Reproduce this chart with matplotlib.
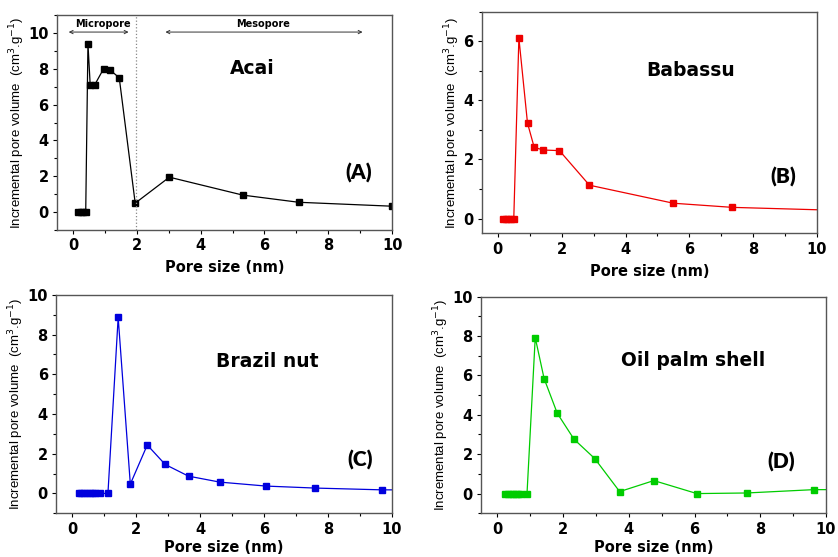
import numpy as np
import matplotlib
matplotlib.use('Agg')
import matplotlib.pyplot as plt
from matplotlib.ticker import MultipleLocator

# ---- data ----
acai_x = [0.17, 0.25, 0.32, 0.40, 0.47, 0.54, 0.68, 0.96, 1.15, 1.45, 1.95, 3.02, 5.32, 7.07, 10.0]
acai_y = [0.0, 0.0, 0.0, 0.0, 9.4, 7.1, 7.1, 8.0, 7.95, 7.5, 0.5, 1.95, 0.95, 0.55, 0.33]

babassu_x = [0.17, 0.25, 0.33, 0.41, 0.50, 0.66, 0.93, 1.14, 1.43, 1.93, 2.87, 5.50, 7.35, 10.3]
babassu_y = [0.0, 0.0, 0.0, 0.0, 0.0, 6.11, 3.23, 2.41, 2.32, 2.30, 1.13, 0.52, 0.38, 0.29]

brazil_x = [0.20, 0.29, 0.38, 0.47, 0.56, 0.65, 0.73, 0.88, 1.12, 1.44, 1.82, 2.35, 2.91, 3.64, 4.62, 6.07, 7.60, 9.70, 10.3]
brazil_y = [0.0, 0.0, 0.0, 0.0, 0.0, 0.0, 0.0, 0.0, 0.0, 8.87, 0.47, 2.44, 1.46, 0.87, 0.57, 0.37, 0.27, 0.18, 0.18]

oilpalm_x = [0.24, 0.32, 0.40, 0.48, 0.56, 0.64, 0.72, 0.90, 1.15, 1.42, 1.82, 2.33, 2.96, 3.72, 4.76, 6.07, 7.58, 9.63, 10.3]
oilpalm_y = [0.0, 0.0, 0.0, 0.0, 0.0, 0.0, 0.0, 0.0, 7.92, 5.84, 4.08, 2.76, 1.78, 0.10, 0.66, 0.0, 0.03, 0.20, 0.20]

ylabel = 'Incremental pore volume  (cm$^{3}$.g$^{-1}$)'
xlabel = 'Pore size (nm)'

plt.rcParams['font.family'] = ['DejaVu Sans']

fig = plt.figure(figsize=(8.38, 5.57), dpi=100)

panels = [
    # rect, x, y, colour, ylim, name, name pos, letter, letter pos, xlabel pad
    ([0.068, 0.587, 0.400, 0.386], acai_x, acai_y, 'black', (-1, 11), 'Acai', (5.63, 8.0), '(A)', (8.95, 2.2), 5),
    ([0.575, 0.581, 0.400, 0.398], babassu_x, babassu_y, '#ee0000', (-0.5, 7), 'Babassu', (6.03, 5.0), '(B)', (8.93, 1.42), 5),
    ([0.067, 0.0785, 0.4006, 0.392], brazil_x, brazil_y, '#0000dd', (-1, 10), 'Brazil nut', (6.09, 6.64), '(C)', (9.02, 1.68), 2.5),
    ([0.574, 0.0785, 0.4117, 0.389], oilpalm_x, oilpalm_y, '#00cc00', (-1, 10), 'Oil palm shell', (5.95, 6.78), '(D)', (8.64, 1.62), 2.5),
]

axes = []
for rect, xs, ys, col, ylim, name, npos, letter, lpos, xpad in panels:
    ax = fig.add_axes(rect)
    ax.plot(xs, ys, '-s', color=col, linewidth=0.9, markersize=4.2)
    ax.set_xlim(-0.5, 10)
    ax.set_ylim(*ylim)
    ax.xaxis.set_major_locator(MultipleLocator(2))
    ax.xaxis.set_minor_locator(MultipleLocator(1))
    ax.yaxis.set_major_locator(MultipleLocator(2))
    ax.yaxis.set_minor_locator(MultipleLocator(1))
    ax.tick_params(which='both', direction='out', top=False, right=False)
    ax.tick_params(which='major', length=3, width=0.8, labelsize=10.5, pad=3)
    ax.tick_params(which='minor', length=2, width=0.8)
    for lab in ax.get_xticklabels() + ax.get_yticklabels():
        lab.set_fontweight('bold')
    for sp in ax.spines.values():
        sp.set_color('#555555')
        sp.set_linewidth(1.0)
    ax.set_xlabel(xlabel, fontsize=10.5, fontweight='bold', labelpad=xpad)
    ax.set_ylabel(ylabel, fontsize=9.5, labelpad=1, family=['Liberation Sans', 'DejaVu Sans'])
    ax.text(npos[0], npos[1], name, fontsize=13.5, fontweight='bold', ha='center', va='center')
    ax.text(lpos[0], lpos[1], letter, fontsize=15, fontweight='heavy', ha='center', va='center',
            family=['Lato', 'DejaVu Sans'])
    axes.append(ax)

# micropore / mesopore marks on panel A
axA = axes[0]
axA.axvline(1.98, color='#888888', linestyle=':', linewidth=0.9)
axA.annotate('', xy=(-0.22, 10.05), xytext=(1.83, 10.05),
             arrowprops=dict(arrowstyle='<->', color='#333333', lw=0.7, mutation_scale=6))
axA.annotate('', xy=(2.81, 10.05), xytext=(9.16, 10.05),
             arrowprops=dict(arrowstyle='<->', color='#333333', lw=0.7, mutation_scale=6))
axA.text(0.94, 10.5, 'Micropore', fontsize=7, fontweight='bold', ha='center', va='center')
axA.text(5.97, 10.5, 'Mesopore', fontsize=7, fontweight='bold', ha='center', va='center')

plt.savefig('out.png', dpi=100)
